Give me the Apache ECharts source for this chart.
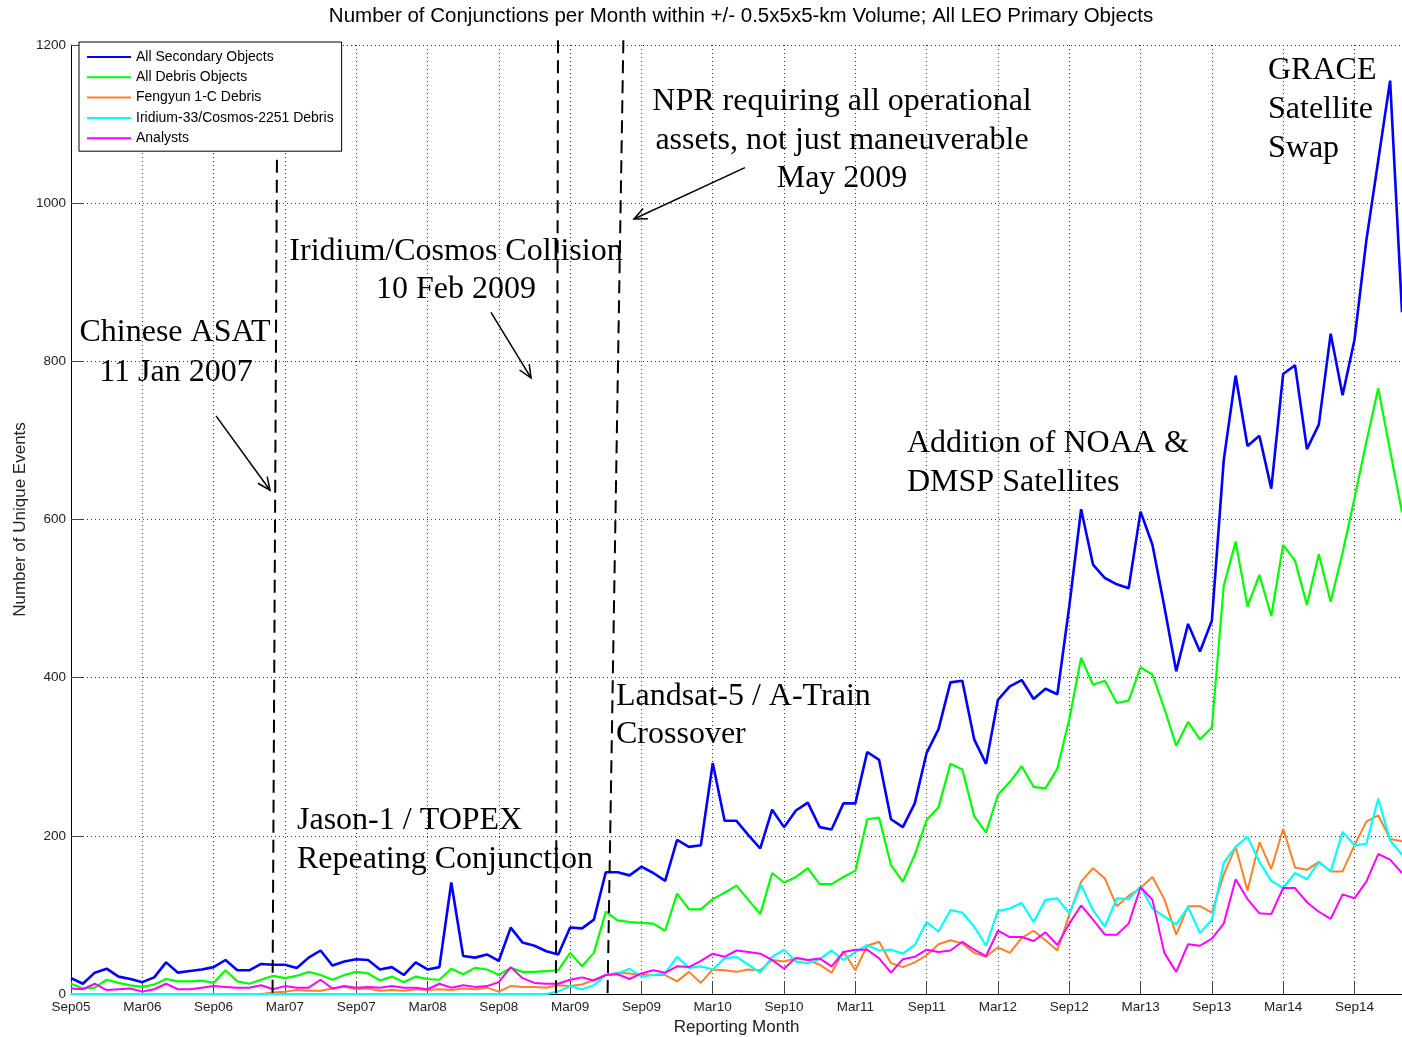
<!DOCTYPE html>
<html><head><meta charset="utf-8">
<script src="https://cdn.jsdelivr.net/npm/echarts@6/dist/echarts.min.js"></script>
<style>html,body{margin:0;padding:0;background:#fff}#c{width:1402px;height:1037px}</style>
</head><body><div id="c"></div>
<script>
// x = month index from Sep05 (0) to Jan15 (112)
const tickLabels = ['Sep05','Mar06','Sep06','Mar07','Sep07','Mar08','Sep08','Mar09','Sep09','Mar10','Sep10','Mar11','Sep11','Mar12','Sep12','Mar13','Sep13','Mar14','Sep14'];

const allSecondary = [20,13,27,32,22,19,15,21,40,27, 29,31,34,43,30,30,38,37,37,33, 46,55,36,41,44,43,31,34,24,40, 31,34,141,48,46,50,42,84,65,61, 54,50,84,83,94,154,154,150,161,153, 143,195,186,188,292,219,219,201,184,233, 211,232,242,211,208,241,241,306,296,221, 211,241,305,335,394,396,322,291,372,389, 397,373,386,379,490,613,543,526,518,513, 610,568,490,408,468,433,472,675,782,693, 706,639,784,795,689,720,835,757,827,953, 1054,1155,862];

const allDebris = [13,7,8,18,14,11,9,12,19,16, 16,17,14,30,16,13,18,23,20,23, 28,24,18,24,28,26,17,22,15,22, 19,18,32,25,33,31,24,33,28,28, 29,30,52,35,52,104,93,91,90,89, 80,127,107,107,120,128,137,119,101,153, 141,148,159,139,139,148,156,221,223,163, 142,176,220,236,291,284,225,204,252,268, 288,262,260,285,347,425,391,396,368,371, 413,404,361,314,344,322,337,516,572,490, 530,478,568,548,492,556,496,558,627,698, 766,687,609];

const fengyun = [0,0,0,0,0,0,0,0,0,0, 0,0,0,0,0,0,0,2,3,5, 4,4,7,9,6,7,4,5,4,6, 5,6,5,7,6,8,3,10,9,9, 8,11,10,12,18,24,27,26,24,24, 24,16,28,14,31,30,28,31,30,43, 41,45,43,37,27,54,30,61,66,39, 34,40,49,63,68,64,52,47,59,52, 71,80,68,55,100,142,159,146,111,124, 134,148,120,75,111,111,103,151,186,131, 192,158,209,160,157,167,155,155,188,218, 226,196,193];

const iridium = [0,0,0,0,0,0,0,0,0,0, 0,0,0,0,0,0,0,0,0,0, 0,0,0,0,0,0,0,0,0,0, 0,0,0,0,0,0,0,0,0,0, 0,3,10,6,11,24,26,32,22,24, 26,47,33,35,31,45,47,37,27,47, 56,41,39,44,55,43,53,62,55,56, 51,62,91,79,106,103,85,61,105,108, 115,91,119,121,102,138,106,85,121,120, 136,108,98,88,110,77,94,166,186,199, 167,143,134,153,145,167,155,205,188,190, 247,194,176];

const analysts = [7,6,13,5,6,7,3,6,13,6, 6,8,10,9,8,8,11,6,10,8, 8,18,7,10,8,9,8,10,8,8, 6,13,8,11,9,10,15,34,20,14, 13,13,18,21,17,24,25,19,26,30, 27,35,34,42,51,47,55,53,51,43, 32,46,43,45,35,53,56,56,45,27, 44,47,56,53,55,66,56,48,80,72, 72,67,78,62,89,112,94,75,75,89, 135,119,52,28,63,61,70,89,145,120, 102,101,134,134,116,104,95,126,121,142, 177,170,153];

const seriesNames = ['All Secondary Objects','All Debris Objects','Fengyun 1-C Debris','Iridium-33/Cosmos-2251 Debris','Analysts'];

// event markers in data units: [x0, y0, x1, y1]
const eventLines = [[17.33,1055,16.96,0],[40.98,1206,40.81,0],[46.48,1206,45.15,0]];
const arrows = [[12.2,731,16.75,637],[35.34,862,38.71,779],[56.71,1045,47.37,980]];

const colors = ['#0000ff','#00ff00','#ff7f27','#00ffff','#ff00ff'];
const widths = [2.6,2.2,2,2.2,2];
const values = [allSecondary, allDebris, fengyun, iridium, analysts];

const chart = echarts.init(document.getElementById('c'), null, {renderer:'canvas', width:1402, height:1037});
const sans = 'Liberation Sans';
chart.setOption({
  animation:false,
  grid:{left:71,right:0,top:45,bottom:43,containLabel:false,outerBoundsMode:'none'},
  legend:{data:seriesNames.map(n=>({name:n, icon:'rect'})), orient:'vertical', left:79, top:42, padding:[8,8,6,8], itemGap:6.3, itemWidth:44, itemHeight:2,
    backgroundColor:'#fff', borderColor:'#000', borderWidth:1, borderRadius:0, selectedMode:false,
    textStyle:{fontFamily:sans, fontSize:14, color:'#000', lineHeight:14}},
  xAxis:{type:'value', min:0, max:112, interval:6,
    axisLine:{show:true, onZero:false, lineStyle:{color:'#000', width:1}},
    axisTick:{show:true, inside:true, length:13, lineStyle:{color:'#444'}},
    axisLabel:{color:'#222', fontFamily:sans, fontSize:13.5, margin:6, showMaxLabel:false,
      formatter:(v)=> (v%6===0 && v/6 < tickLabels.length) ? tickLabels[v/6] : ''},
    splitLine:{show:true, lineStyle:{type:[1,3], color:'#333', width:1}},
    name:'Reporting Month', nameLocation:'middle', nameGap:25,
    nameTextStyle:{fontFamily:sans, fontSize:17, color:'#222'}},
  yAxis:{type:'value', min:0, max:1200, interval:200,
    axisLine:{show:true, onZero:false, lineStyle:{color:'#000', width:1}},
    axisTick:{show:true, inside:true, length:13, lineStyle:{color:'#444'}},
    axisLabel:{color:'#222', fontFamily:sans, fontSize:13.5, margin:5, formatter:(v)=>String(v)},
    splitLine:{show:true, lineStyle:{type:[1,3], color:'#333', width:1}},
    name:'Number of Unique Events', nameLocation:'middle', nameGap:42, nameMoveOverlap:false,
    nameTextStyle:{fontFamily:sans, fontSize:17, color:'#222'}},
  series: values.map((arr,k)=>({
    name:seriesNames[k], type:'line', symbol:'none', showSymbol:false,
    data:arr.map((v,i)=>[i,v]), lineStyle:{color:colors[k], width:widths[k]},
    itemStyle:{color:colors[k]}, z:2+k
  }))
});

const toPx = (x,y)=>chart.convertToPixel({gridIndex:0},[x,y]);
const g = [];
g.push({type:'text', z:100, style:{text:'Number of Conjunctions per Month within +/- 0.5x5x5-km Volume; All LEO Primary Objects',
  x:741, y:16, font:'20.5px "Liberation Sans"', fill:'#000', align:'center', verticalAlign:'middle'}});
eventLines.forEach(l=>{
  const a = toPx(l[0],l[1]), b = toPx(l[2],l[3]);
  g.push({type:'line', z:50, shape:{x1:a[0],y1:a[1],x2:b[0],y2:b[1]}, style:{stroke:'#000', lineWidth:2, lineDash:[13,7]}});
});
arrows.forEach(l=>{
  const a = toPx(l[0],l[1]), b = toPx(l[2],l[3]);
  g.push({type:'line', z:50, shape:{x1:a[0],y1:a[1],x2:b[0],y2:b[1]}, style:{stroke:'#000', lineWidth:1.5}});
  const dx=b[0]-a[0], dy=b[1]-a[1], L=Math.hypot(dx,dy), ux=dx/L, uy=dy/L, h=14, ang=0.42;
  const p1=[b[0]-h*(ux*Math.cos(ang)-uy*Math.sin(ang)), b[1]-h*(uy*Math.cos(ang)+ux*Math.sin(ang))];
  const p2=[b[0]-h*(ux*Math.cos(-ang)-uy*Math.sin(-ang)), b[1]-h*(uy*Math.cos(-ang)+ux*Math.sin(-ang))];
  g.push({type:'polyline', z:50, shape:{points:[p1,b,p2]}, style:{stroke:'#000', lineWidth:1.5, fill:null}});
});
const serif = '32px "Liberation Serif"';
const notes = [
  ['Chinese ASAT',175,333,'center'],['11 Jan 2007',176,373,'center'],
  ['Iridium/Cosmos Collision',456,252,'center'],['10 Feb 2009',456,290,'center'],
  ['NPR requiring all operational',842,102,'center'],['assets, not just maneuverable',842,141,'center'],['May 2009',842,179,'center'],
  ['Jason-1 / TOPEX',297,821,'left'],['Repeating Conjunction',297,860,'left'],
  ['Landsat-5 / A-Train',616,697,'left'],['Crossover',616,735,'left'],
  ['Addition of NOAA &',907,444,'left'],['DMSP Satellites',907,483,'left'],
  ['GRACE',1268,71,'left'],['Satellite',1268,110,'left'],['Swap',1268,149,'left']
];
notes.forEach(n=>g.push({type:'text', z:60, style:{text:n[0], x:n[1], y:n[2], font:serif, fill:'#000', align:n[3], verticalAlign:'middle'}}));
chart.setOption({graphic:g});
</script></body></html>
